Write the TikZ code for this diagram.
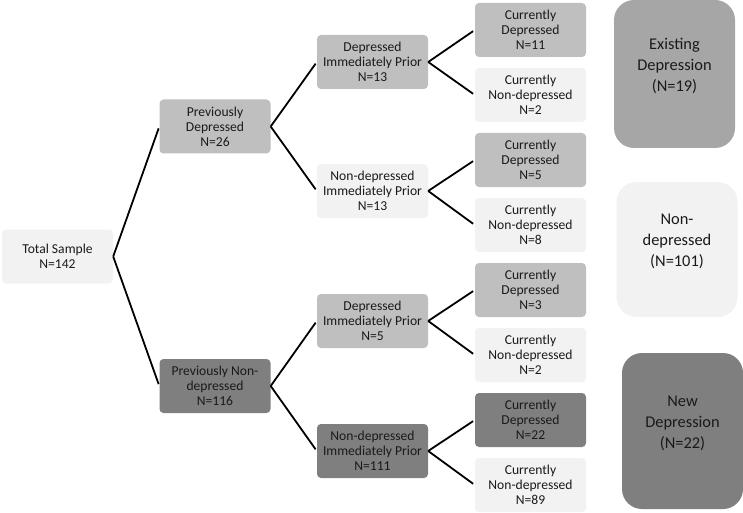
\documentclass[tikz,border=0pt]{standalone}
\usepackage{fontspec}
\setmainfont{Carlito}
\definecolor{lightbox}{HTML}{F2F2F2}
\definecolor{midbox}{HTML}{BFBFBF}
\definecolor{darkbox}{HTML}{7F7F7F}
\definecolor{groupbox}{HTML}{A6A6A6}
\definecolor{ink}{HTML}{1A1A1A}
\def\fork#1#2#3{\draw[branch] (#1.east) -- (#2.west); \draw[branch] (#1.east) -- (#3.west);}

\begin{document}
\begin{tikzpicture}[x=1pt,y=-1pt,
    box/.style={rounded corners=4pt,minimum width=111pt,minimum height=54pt,inner sep=0pt,
                align=center,text=ink,font=\fontsize{13.6}{15}\selectfont},
    light/.style={box,fill=lightbox},
    mid/.style={box,fill=midbox},
    dark/.style={box,fill=darkbox},
    tally/.style={rounded corners=20pt,minimum width=121pt,inner sep=0pt,text depth=18pt,
                align=center,text=ink,font=\fontsize{16.4}{21}\selectfont},
    branch/.style={line width=1.8pt,shorten >=2pt}]
    \useasboundingbox (0,0) rectangle (743,513);

    \node[light] (total) at (57.5,256.5) {Total Sample\\N=142};

    \node[mid]  (prevdep) at (215,126.5) {Previously\\Depressed\\N=26};
    \node[dark] (prevnon) at (215,386)   {Previously Non-\\depressed\\N=116};

    \node[mid]   (pd-dep) at (372.5,62)  {Depressed\\Immediately Prior\\N=13};
    \node[light] (pd-non) at (372.5,191) {Non-depressed\\Immediately Prior\\N=13};
    \node[mid]   (pn-dep) at (372.5,321) {Depressed\\Immediately Prior\\N=5};
    \node[dark]  (pn-non) at (372.5,451) {Non-depressed\\Immediately Prior\\N=111};

    \node[mid]   (c1) at (530.5,30)  {Currently\\Depressed\\N=11};
    \node[light] (c2) at (530.5,95)  {Currently\\Non-depressed\\N=2};
    \node[mid]   (c3) at (530.5,160) {Currently\\Depressed\\N=5};
    \node[light] (c4) at (530.5,225) {Currently\\Non-depressed\\N=8};
    \node[mid]   (c5) at (530.5,290) {Currently\\Depressed\\N=3};
    \node[light] (c6) at (530.5,355) {Currently\\Non-depressed\\N=2};
    \node[dark]  (c7) at (530.5,420) {Currently\\Depressed\\N=22};
    \node[light] (c8) at (530.5,485) {Currently\\Non-depressed\\N=89};

    \node[tally,fill=groupbox,minimum height=148pt] (existing) at (674.5,74)  {Existing\\Depression\\(N=19)};
    \node[tally,fill=lightbox,minimum height=135pt] (nondep)   at (677,249.5) {Non-\\depressed\\(N=101)};
    \node[tally,fill=darkbox,minimum height=156pt]  (newdep)   at (682.5,431) {New\\Depression\\(N=22)};

    \fork{total}{prevdep}{prevnon}
    \fork{prevdep}{pd-dep}{pd-non}
    \fork{prevnon}{pn-dep}{pn-non}
    \fork{pd-dep}{c1}{c2}
    \fork{pd-non}{c3}{c4}
    \fork{pn-dep}{c5}{c6}
    \fork{pn-non}{c7}{c8}
\end{tikzpicture}
\end{document}
